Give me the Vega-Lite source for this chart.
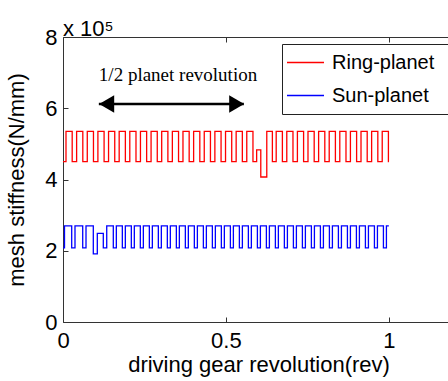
{
  "$schema": "https://vega.github.io/schema/vega-lite/v6.json",
  "autosize": "none",
  "width": 391,
  "height": 285,
  "padding": {"left": 63, "top": 37, "right": 0, "bottom": 59},
  "background": "white",
  "title": {"text": "x 10\u2075", "anchor": "start", "frame": "group", "fontSize": 22, "font": "Liberation Sans", "fontWeight": "normal", "color": "#000", "offset": -15},
  "datasets": {
    "stiff": [
      {"series": "Ring-planet", "x": 0, "y": 4.5},
      {"series": "Ring-planet", "x": 0.0092, "y": 5.35},
      {"series": "Ring-planet", "x": 0.0282, "y": 4.5},
      {"series": "Ring-planet", "x": 0.0418, "y": 5.35},
      {"series": "Ring-planet", "x": 0.0608, "y": 4.5},
      {"series": "Ring-planet", "x": 0.0745, "y": 5.35},
      {"series": "Ring-planet", "x": 0.0935, "y": 4.5},
      {"series": "Ring-planet", "x": 0.1071, "y": 5.35},
      {"series": "Ring-planet", "x": 0.1261, "y": 4.5},
      {"series": "Ring-planet", "x": 0.1398, "y": 5.35},
      {"series": "Ring-planet", "x": 0.1588, "y": 4.5},
      {"series": "Ring-planet", "x": 0.1724, "y": 5.35},
      {"series": "Ring-planet", "x": 0.1914, "y": 4.5},
      {"series": "Ring-planet", "x": 0.2050, "y": 5.35},
      {"series": "Ring-planet", "x": 0.2240, "y": 4.5},
      {"series": "Ring-planet", "x": 0.2377, "y": 5.35},
      {"series": "Ring-planet", "x": 0.2567, "y": 4.5},
      {"series": "Ring-planet", "x": 0.2703, "y": 5.35},
      {"series": "Ring-planet", "x": 0.2893, "y": 4.5},
      {"series": "Ring-planet", "x": 0.3029, "y": 5.35},
      {"series": "Ring-planet", "x": 0.3219, "y": 4.5},
      {"series": "Ring-planet", "x": 0.3356, "y": 5.35},
      {"series": "Ring-planet", "x": 0.3546, "y": 4.5},
      {"series": "Ring-planet", "x": 0.3682, "y": 5.35},
      {"series": "Ring-planet", "x": 0.3872, "y": 4.5},
      {"series": "Ring-planet", "x": 0.4009, "y": 5.35},
      {"series": "Ring-planet", "x": 0.4199, "y": 4.5},
      {"series": "Ring-planet", "x": 0.4335, "y": 5.35},
      {"series": "Ring-planet", "x": 0.4525, "y": 4.5},
      {"series": "Ring-planet", "x": 0.4661, "y": 5.35},
      {"series": "Ring-planet", "x": 0.4851, "y": 4.5},
      {"series": "Ring-planet", "x": 0.4988, "y": 5.35},
      {"series": "Ring-planet", "x": 0.5178, "y": 4.5},
      {"series": "Ring-planet", "x": 0.5314, "y": 5.35},
      {"series": "Ring-planet", "x": 0.5504, "y": 4.5},
      {"series": "Ring-planet", "x": 0.5640, "y": 5.35},
      {"series": "Ring-planet", "x": 0.5830, "y": 4.5},
      {"series": "Ring-planet", "x": 0.5943, "y": 4.83},
      {"series": "Ring-planet", "x": 0.6070, "y": 4.07},
      {"series": "Ring-planet", "x": 0.6254, "y": 5.35},
      {"series": "Ring-planet", "x": 0.6426, "y": 4.5},
      {"series": "Ring-planet", "x": 0.6543, "y": 5.35},
      {"series": "Ring-planet", "x": 0.6733, "y": 4.5},
      {"series": "Ring-planet", "x": 0.6868, "y": 5.35},
      {"series": "Ring-planet", "x": 0.7058, "y": 4.5},
      {"series": "Ring-planet", "x": 0.7194, "y": 5.35},
      {"series": "Ring-planet", "x": 0.7384, "y": 4.5},
      {"series": "Ring-planet", "x": 0.7519, "y": 5.35},
      {"series": "Ring-planet", "x": 0.7709, "y": 4.5},
      {"series": "Ring-planet", "x": 0.7845, "y": 5.35},
      {"series": "Ring-planet", "x": 0.8035, "y": 4.5},
      {"series": "Ring-planet", "x": 0.8170, "y": 5.35},
      {"series": "Ring-planet", "x": 0.8360, "y": 4.5},
      {"series": "Ring-planet", "x": 0.8495, "y": 5.35},
      {"series": "Ring-planet", "x": 0.8685, "y": 4.5},
      {"series": "Ring-planet", "x": 0.8821, "y": 5.35},
      {"series": "Ring-planet", "x": 0.9011, "y": 4.5},
      {"series": "Ring-planet", "x": 0.9146, "y": 5.35},
      {"series": "Ring-planet", "x": 0.9336, "y": 4.5},
      {"series": "Ring-planet", "x": 0.9472, "y": 5.35},
      {"series": "Ring-planet", "x": 0.9662, "y": 4.5},
      {"series": "Ring-planet", "x": 0.9797, "y": 5.35},
      {"series": "Ring-planet", "x": 0.9987, "y": 4.5},
      {"series": "Ring-planet", "x": 1.0, "y": 4.5},
      {"series": "Sun-planet", "x": 0, "y": 2.08},
      {"series": "Sun-planet", "x": 0.0046, "y": 2.70},
      {"series": "Sun-planet", "x": 0.0267, "y": 2.08},
      {"series": "Sun-planet", "x": 0.0368, "y": 2.70},
      {"series": "Sun-planet", "x": 0.0605, "y": 2.08},
      {"series": "Sun-planet", "x": 0.0706, "y": 2.70},
      {"series": "Sun-planet", "x": 0.0930, "y": 1.91},
      {"series": "Sun-planet", "x": 0.1053, "y": 2.49},
      {"series": "Sun-planet", "x": 0.1237, "y": 2.08},
      {"series": "Sun-planet", "x": 0.1342, "y": 2.70},
      {"series": "Sun-planet", "x": 0.1544, "y": 2.08},
      {"series": "Sun-planet", "x": 0.1637, "y": 2.70},
      {"series": "Sun-planet", "x": 0.1821, "y": 2.08},
      {"series": "Sun-planet", "x": 0.1913, "y": 2.70},
      {"series": "Sun-planet", "x": 0.2097, "y": 2.08},
      {"series": "Sun-planet", "x": 0.2189, "y": 2.70},
      {"series": "Sun-planet", "x": 0.2373, "y": 2.08},
      {"series": "Sun-planet", "x": 0.2466, "y": 2.70},
      {"series": "Sun-planet", "x": 0.2650, "y": 2.08},
      {"series": "Sun-planet", "x": 0.2742, "y": 2.70},
      {"series": "Sun-planet", "x": 0.2926, "y": 2.08},
      {"series": "Sun-planet", "x": 0.3018, "y": 2.70},
      {"series": "Sun-planet", "x": 0.3202, "y": 2.08},
      {"series": "Sun-planet", "x": 0.3294, "y": 2.70},
      {"series": "Sun-planet", "x": 0.3479, "y": 2.08},
      {"series": "Sun-planet", "x": 0.3571, "y": 2.70},
      {"series": "Sun-planet", "x": 0.3755, "y": 2.08},
      {"series": "Sun-planet", "x": 0.3847, "y": 2.70},
      {"series": "Sun-planet", "x": 0.4031, "y": 2.08},
      {"series": "Sun-planet", "x": 0.4124, "y": 2.70},
      {"series": "Sun-planet", "x": 0.4308, "y": 2.08},
      {"series": "Sun-planet", "x": 0.4400, "y": 2.70},
      {"series": "Sun-planet", "x": 0.4584, "y": 2.08},
      {"series": "Sun-planet", "x": 0.4676, "y": 2.70},
      {"series": "Sun-planet", "x": 0.4860, "y": 2.08},
      {"series": "Sun-planet", "x": 0.4952, "y": 2.70},
      {"series": "Sun-planet", "x": 0.5137, "y": 2.08},
      {"series": "Sun-planet", "x": 0.5229, "y": 2.70},
      {"series": "Sun-planet", "x": 0.5413, "y": 2.08},
      {"series": "Sun-planet", "x": 0.5505, "y": 2.70},
      {"series": "Sun-planet", "x": 0.5689, "y": 2.08},
      {"series": "Sun-planet", "x": 0.5781, "y": 2.70},
      {"series": "Sun-planet", "x": 0.5966, "y": 2.08},
      {"series": "Sun-planet", "x": 0.6058, "y": 2.70},
      {"series": "Sun-planet", "x": 0.6242, "y": 2.08},
      {"series": "Sun-planet", "x": 0.6334, "y": 2.70},
      {"series": "Sun-planet", "x": 0.6518, "y": 2.08},
      {"series": "Sun-planet", "x": 0.6610, "y": 2.70},
      {"series": "Sun-planet", "x": 0.6794, "y": 2.08},
      {"series": "Sun-planet", "x": 0.6887, "y": 2.70},
      {"series": "Sun-planet", "x": 0.7071, "y": 2.08},
      {"series": "Sun-planet", "x": 0.7163, "y": 2.70},
      {"series": "Sun-planet", "x": 0.7347, "y": 2.08},
      {"series": "Sun-planet", "x": 0.7439, "y": 2.70},
      {"series": "Sun-planet", "x": 0.7623, "y": 2.08},
      {"series": "Sun-planet", "x": 0.7716, "y": 2.70},
      {"series": "Sun-planet", "x": 0.7900, "y": 2.08},
      {"series": "Sun-planet", "x": 0.7992, "y": 2.70},
      {"series": "Sun-planet", "x": 0.8176, "y": 2.08},
      {"series": "Sun-planet", "x": 0.8268, "y": 2.70},
      {"series": "Sun-planet", "x": 0.8452, "y": 2.08},
      {"series": "Sun-planet", "x": 0.8545, "y": 2.70},
      {"series": "Sun-planet", "x": 0.8729, "y": 2.08},
      {"series": "Sun-planet", "x": 0.8821, "y": 2.70},
      {"series": "Sun-planet", "x": 0.9005, "y": 2.08},
      {"series": "Sun-planet", "x": 0.9097, "y": 2.70},
      {"series": "Sun-planet", "x": 0.9281, "y": 2.08},
      {"series": "Sun-planet", "x": 0.9374, "y": 2.70},
      {"series": "Sun-planet", "x": 0.9558, "y": 2.08},
      {"series": "Sun-planet", "x": 0.9650, "y": 2.70},
      {"series": "Sun-planet", "x": 0.9834, "y": 2.08},
      {"series": "Sun-planet", "x": 0.9926, "y": 2.70},
      {"series": "Sun-planet", "x": 1.0, "y": 2.70}
    ],
    "arrow": [{"x1": 0.11, "x2": 0.555, "y": 6.12}],
    "heads": [
      {"x": 0.134, "y": 6.12, "dir": "left"},
      {"x": 0.533, "y": 6.12, "dir": "right"}
    ],
    "note": [{"x": 0.353, "y": 6.94, "text": "1/2 planet revolution"}]
  },
  "layer": [
    {
      "data": {"name": "stiff"},
      "mark": {"type": "line", "interpolate": "step-after", "strokeWidth": 1.3},
      "encoding": {
        "x": {"field": "x", "type": "quantitative", "scale": {"domain": [0, 1.2], "nice": false, "zero": false},
              "axis": {"orient": "bottom", "values": [0, 0.5, 1], "format": "~g", "labelOverlap": false, "title": "driving gear revolution(rev)"}},
        "y": {"field": "y", "type": "quantitative", "scale": {"domain": [0, 8], "nice": false},
              "axis": {"values": [0, 2, 4, 6, 8], "labelOverlap": false, "labelSeparation": 0, "title": "mesh stiffness(N/mm)"}},
        "color": {"field": "series", "type": "nominal",
                  "scale": {"domain": ["Ring-planet", "Sun-planet"], "range": ["#ff0000", "#0000ff"]},
                  "legend": {"orient": "none", "legendX": 219, "legendY": 7, "title": null,
                             "symbolType": "stroke", "symbolSize": 1369, "symbolStrokeWidth": 1.3,
                             "labelFontSize": 20, "labelFont": "Liberation Sans", "labelColor": "#000",
                             "labelOffset": 7, "padding": 4, "rowPadding": 4, "clipHeight": 29,
                             "strokeColor": "#222", "fillColor": "#fff",
                             "labelExpr": "datum.label + '\u00a0\u00a0\u200b'"}}
      }
    },
    {
      "data": {"name": "arrow"},
      "mark": {"type": "rule", "strokeWidth": 2.5, "color": "#000"},
      "encoding": {
        "x": {"field": "x1", "type": "quantitative",
              "axis": {"orient": "top", "values": [0, 0.5, 1], "labels": false, "title": null}},
        "x2": {"field": "x2"},
        "y": {"field": "y", "type": "quantitative", "axis": null}
      }
    },
    {
      "data": {"name": "heads"},
      "mark": {"type": "point", "filled": true, "color": "#000", "size": 300, "opacity": 1},
      "encoding": {
        "x": {"field": "x", "type": "quantitative", "axis": null},
        "y": {"field": "y", "type": "quantitative", "axis": null},
        "shape": {"field": "dir", "type": "nominal",
                  "scale": {"domain": ["left", "right"], "range": ["triangle-left", "triangle-right"]}, "legend": null}
      }
    },
    {
      "data": {"name": "note"},
      "mark": {"type": "text", "font": "Liberation Serif", "fontSize": 19, "color": "#000"},
      "encoding": {
        "x": {"field": "x", "type": "quantitative", "axis": null},
        "y": {"field": "y", "type": "quantitative", "axis": null},
        "text": {"field": "text"}
      }
    }
  ],
  "resolve": {"axis": {"x": "independent", "y": "independent"}},
  "config": {
    "view": {"stroke": "#333", "strokeWidth": 1},
    "axis": {"grid": false, "domain": false, "tickSize": -5, "tickColor": "#333", "labelFont": "Liberation Sans",
             "labelFontSize": 22, "labelColor": "#000", "titleFont": "Liberation Sans", "titleFontSize": 22,
             "titleFontWeight": "normal", "titleColor": "#000", "labelFlush": false, "labelOverlap": false},
    "axisX": {"labelPadding": 13, "titlePadding": 3},
    "axisY": {"labelPadding": 11, "titlePadding": 16}
  }
}
